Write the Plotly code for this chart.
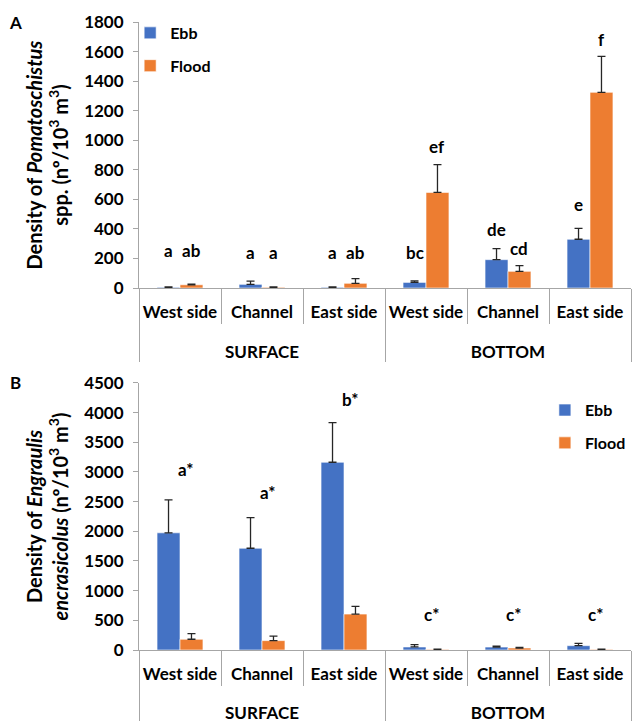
import plotly.graph_objects as go

# ---------------- data ----------------
groups = ["SURFACE", "SURFACE", "SURFACE", "BOTTOM", "BOTTOM", "BOTTOM"]
sites = ["West side", "Channel", "East side", "West side", "Channel", "East side"]

pom_ebb = [5, 25, 5, 38, 192, 330]
pom_ebb_err = [3, 22, 3, 10, 75, 74]
pom_flood = [22, 5, 32, 647, 113, 1324]
pom_flood_err = [5, 3, 32, 188, 38, 244]
pom_letters_ebb = ["a", "a", "a", "bc", "de", "e"]
pom_letters_flood = ["ab", "a", "ab", "ef", "cd", "f"]

eng_ebb = [1975, 1715, 3164, 51, 50, 73]
eng_ebb_err = [555, 515, 668, 40, 15, 40]
eng_flood = [181, 158, 606, 10, 34, 10]
eng_flood_err = [95, 75, 130, 3, 11, 3]
eng_letters = ["a*", "a*", "b*", "c*", "c*", "c*"]

# ---------------- style ----------------
EBB = "#4472C4"
FLOOD = "#ED7D31"
FONT = "Lato"
AXC = "#A6A6A6"

# invisible second line lowers the group labels (SURFACE / BOTTOM)
site_labels = [s + "<br><span style='color:rgba(0,0,0,0);font-size:32px'>.</span>" for s in sites]
x = [groups, site_labels]

def bar(name, y, err, color, xa, ya, legend):
    return go.Bar(
        name=name, x=x, y=y, xaxis=xa, yaxis=ya,
        marker=dict(color=color, line=dict(color="rgba(255,255,255,0.6)", width=1)),
        error_y=dict(type="data", array=err, arrayminus=[0] * len(err), symmetric=False,
                     color="#262626", thickness=1.3, width=4),
        legend=legend, legendgroup=name + legend,
    )

fig = go.Figure()
fig.add_trace(bar("Ebb", pom_ebb, pom_ebb_err, EBB, "x", "y", "legend"))
fig.add_trace(bar("Flood", pom_flood, pom_flood_err, FLOOD, "x", "y", "legend"))
fig.add_trace(bar("Ebb", eng_ebb, eng_ebb_err, EBB, "x2", "y2", "legend2"))
fig.add_trace(bar("Flood", eng_flood, eng_flood_err, FLOOD, "x2", "y2", "legend2"))

xcommon = dict(
    type="multicategory", showline=True, linecolor=AXC, linewidth=1,
    ticks="outside", tickson="boundaries", ticklen=35, tickcolor=AXC,
    dividercolor=AXC, dividerwidth=1, showgrid=False, zeroline=False,
    automargin=False, ticklabelstandoff=9, tickangle=0,
    tickfont=dict(family=FONT, size=17, color="black", weight="bold"),
)
ycommon = dict(
    showline=True, linecolor=AXC, linewidth=1, ticks="outside", ticklen=5,
    tickcolor=AXC, showgrid=False, zeroline=False, automargin=False,
    ticklabelstandoff=6,
    tickfont=dict(family=FONT, size=17, color="black", weight="bold"),
)

fig.update_layout(
    width=632, height=721,
    margin=dict(l=139, r=1, t=22, b=71, autoexpand=False),
    paper_bgcolor="white", plot_bgcolor="white",
    barmode="group", bargap=0.44, bargroupgap=0,
    font=dict(family=FONT, color="black"),
    xaxis=dict(anchor="y", domain=[0, 1], **xcommon),
    yaxis=dict(anchor="x", domain=[0.5764, 1.0], range=[0, 1800], dtick=200,
               title=dict(text="<b>Density of <i>Pomatoschistus</i><br>spp. (nº/10<sup>3</sup> m<sup>3</sup>)</b>",
                          font=dict(family=FONT, size=20), standoff=10),
               **ycommon),
    xaxis2=dict(anchor="y2", domain=[0, 1], **xcommon),
    yaxis2=dict(anchor="x2", domain=[0.0, 0.4252], range=[0, 4500], dtick=500,
                title=dict(text="<b>Density of <i>Engraulis</i><br><i>encrasicolus</i> (nº/10<sup>3</sup> m<sup>3</sup>)</b>",
                           font=dict(family=FONT, size=20), standoff=10),
                **ycommon),
    legend=dict(x=-0.018, y=1.0096, xanchor="left", yanchor="top", tracegroupgap=9,
                bgcolor="rgba(0,0,0,0)", font=dict(family=FONT, size=16, weight="bold")),
    legend2=dict(x=0.825, y=0.409, xanchor="left", yanchor="top", tracegroupgap=9,
                 bgcolor="rgba(0,0,0,0)", font=dict(family=FONT, size=16, weight="bold")),
)

# ---------------- annotations ----------------
ann_font = dict(family=FONT, size=17, color="black", weight="bold")
pom_label_y_ebb = [255, 240, 240, 237, 397, 566]
pom_label_y_flood = [255, 240, 240, 959, 270, 1680]
for i in range(len(sites)):
    fig.add_annotation(x=i - 0.14, y=pom_label_y_ebb[i], xref="x", yref="y",
                       text=pom_letters_ebb[i], showarrow=False, font=ann_font)
    fig.add_annotation(x=i + 0.14, y=pom_label_y_flood[i], xref="x", yref="y",
                       text=pom_letters_flood[i], showarrow=False, font=ann_font)

eng_label_y = [3040, 2650, 4228, 594, 594, 594]
for i in range(len(sites)):
    fig.add_annotation(x=i + 0.07, y=eng_label_y[i], xref="x2", yref="y2",
                       text=eng_letters[i], showarrow=False, font=ann_font)

plot_w = 632 - 139 - 1
fig.add_annotation(x=(15 - 139) / plot_w, y=1.0, xref="paper", yref="paper",
                   text="<b>A</b>", showarrow=False, font=dict(family=FONT, size=17),
                   xanchor="center", yanchor="middle")
fig.add_annotation(x=(15 - 139) / plot_w, y=0.4252, xref="paper", yref="paper",
                   text="<b>B</b>", showarrow=False, font=dict(family=FONT, size=17),
                   xanchor="center", yanchor="middle")

fig.write_html("out.html", config={"displayModeBar": False},
               post_script="document.body.style.margin='0px';")
